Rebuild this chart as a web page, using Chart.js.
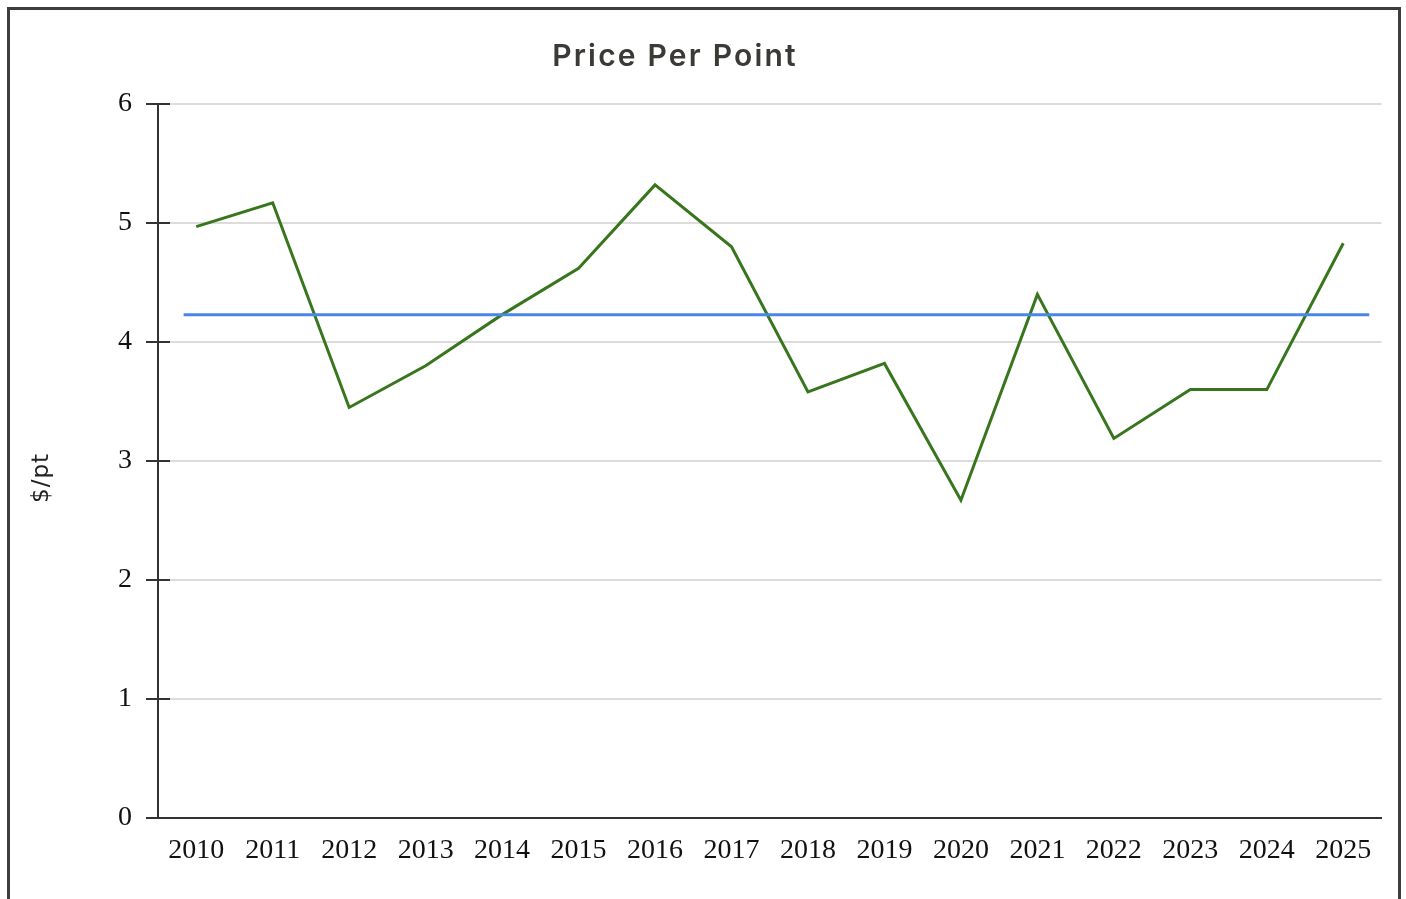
<!DOCTYPE html>
<html><head><meta charset="utf-8">
<script src="https://cdn.jsdelivr.net/npm/chart.js@4.4.1/dist/chart.umd.min.js"></script>
<style>
html,body{margin:0;padding:0;background:#fff;}
#wrap{position:relative;width:1406px;height:899px;overflow:hidden;background:#fff;}
#frame{position:absolute;left:7px;top:7px;width:1388px;height:1000px;border:3px solid #3d3d3d;pointer-events:none;}
#title{position:absolute;left:0;top:40px;width:1350px;text-align:center;font:600 30px Inter, "Open Sans", sans-serif;letter-spacing:2.2px;line-height:1;color:#3c3a37;}
#ytitle{position:absolute;left:40px;top:478px;width:0;height:0;}
#ytitle span{position:absolute;left:0;top:0;transform:translate(-50%,-50%) rotate(-90deg);white-space:nowrap;font:23px "DejaVu Sans", sans-serif;letter-spacing:1px;line-height:1;color:#222;}
canvas{position:absolute;left:0;top:0;}
</style></head><body>
<div id="wrap"><canvas id="c" width="1406" height="899"></canvas><div id="frame"></div><div id="title">Price Per Point</div><div id="ytitle"><span id="ytext"></span></div></div>
<script>
const years = [2010,2011,2012,2013,2014,2015,2016,2017,2018,2019,2020,2021,2022,2023,2024,2025];
const pricePerPoint = [4.97,5.17,3.45,3.80,4.23,4.62,5.32,4.80,3.58,3.82,2.67,4.40,3.19,3.60,3.60,4.83];
const referenceLevel = 4.23;
const referenceSpan = [2009.835, 2025.34];
const yTicks = [0,1,2,3,4,5,6];
const axisLabel = '$/pt';

document.getElementById('ytext').textContent = axisLabel;

const innerTicks = {
  id: 'innerTicks',
  beforeDatasetsDraw(chart) {
    const s = chart.scales.y, ctx = chart.ctx;
    ctx.save();
    ctx.strokeStyle = '#333';
    ctx.lineWidth = 2;
    s.ticks.forEach(t => {
      const py = s.getPixelForValue(t.value);
      ctx.beginPath();
      ctx.moveTo(s.right, py);
      ctx.lineTo(s.right + 12, py);
      ctx.stroke();
    });
    ctx.restore();
  }
};

new Chart(document.getElementById('c'), {
  type: 'line',
  data: {
    datasets: [
      {
        label: 'Reference',
        data: referenceSpan.map(x => ({x: x, y: referenceLevel})),
        borderColor: '#4a86e8',
        borderWidth: 3,
        pointRadius: 0,
        tension: 0
      },
      {
        label: 'Price Per Point',
        data: years.map((yr, i) => ({x: yr, y: pricePerPoint[i]})),
        borderColor: '#38761d',
        borderWidth: 3,
        pointRadius: 0,
        tension: 0
      }
    ]
  },
  options: {
    responsive: false,
    animation: false,
    layout: {padding: {left: 24, right: 24.5, top: 104, bottom: 21}},
    plugins: {legend: {display: false}, title: {display: false}, tooltip: {enabled: false}},
    scales: {
      x: {
        type: 'linear',
        min: years[0] - 0.5,
        max: years[years.length - 1] + 0.5,
        afterBuildTicks: s => { s.ticks = years.map(v => ({value: v})); },
        afterFit: s => { s.height = 60; },
        grid: {display: false, drawTicks: false},
        border: {display: true, color: '#333', width: 2},
        ticks: {
          callback: v => String(v),
          font: {family: '"Liberation Serif", "Times New Roman", serif', size: 28},
          color: '#111',
          padding: 16,
          maxRotation: 0,
          autoSkip: false
        }
      },
      y: {
        min: 0,
        max: 6,
        afterBuildTicks: s => { s.ticks = yTicks.map(v => ({value: v})); },
        afterFit: s => { s.width = 134; },
        grid: {color: '#dcdcdc', lineWidth: 2, tickColor: '#333', tickLength: 12, drawTicks: true},
        border: {display: true, color: '#333', width: 2},
        ticks: {
          font: {family: '"Liberation Serif", "Times New Roman", serif', size: 28},
          color: '#111',
          padding: 14
        },
        title: {display: false}
      }
    }
  },
  plugins: [innerTicks]
});
</script>
</body></html>
